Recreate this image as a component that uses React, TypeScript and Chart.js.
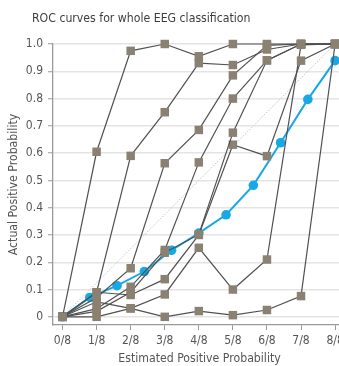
import React, { useEffect, useRef } from 'react';
import { Chart, registerables } from 'chart.js';

Chart.register(...registerables);

const FONT = "'Liberation Sans Narrow', 'DejaVu Sans Condensed', 'Liberation Sans', sans-serif";

const titleText = 'ROC curves for whole EEG classification';
const xAxisTitle = 'Estimated Positive Probability';
const yAxisTitle = 'Actual Positive Probability';

const xTickValues = [0, 0.125, 0.25, 0.375, 0.5, 0.625, 0.75, 0.875, 1];
const xTickLabels = ['0/8', '1/8', '2/8', '3/8', '4/8', '5/8', '6/8', '7/8', '8/8'];
const yTickValues = [0, 0.1, 0.2, 0.3, 0.4, 0.5, 0.6, 0.7, 0.8, 0.9, 1.0];

// Individual readers (gray squares), evaluated at k/8
const readerX = [0, 0.125, 0.25, 0.375, 0.5, 0.625, 0.75, 0.875, 1];
const reader1 = [0, 0.605, 0.975, 1.0, 0.955, 1.0, 1.0, 1.0, 1.0];
const reader2 = [0, 0.09, 0.59, 0.75, 0.93, 0.923, 0.98, 1.0, 1.0];
const reader3 = [0, 0.07, 0.178, 0.563, 0.685, 0.885, 0.995, 1.0, 1.0];
const reader4 = [0, 0.03, 0.11, 0.245, 0.566, 0.8, 0.94, 1.0, 1.0];
const reader5 = [0, 0.02, 0.09, 0.235, 0.302, 0.675, 0.94, 1.0, 1.0];
const reader6 = [0, 0.09, 0.08, 0.138, 0.3, 0.631, 0.589, 0.939, 1.0];
const reader7 = [0, 0.0, 0.031, 0.082, 0.253, 0.1, 0.21, 0.997, 1.0];
const reader8 = [0, 0.055, 0.031, 0.0, 0.021, 0.006, 0.025, 0.076, 1.0];
const readers = [reader1, reader2, reader3, reader4, reader5, reader6, reader7, reader8];

// Algorithm curve (blue)
const blueX = [0, 0.1, 0.2, 0.3, 0.4, 0.5, 0.6, 0.7, 0.8, 0.9, 1.0];
const blueY = [0, 0.071, 0.114, 0.166, 0.244, 0.307, 0.374, 0.482, 0.638, 0.797, 0.939];

// Reference diagonal
const diagX = [0, 1];
const diagY = [0, 1];

export default function App() {
  const canvasRef = useRef<HTMLCanvasElement | null>(null);

  useEffect(() => {
    const canvas = canvasRef.current;
    if (!canvas) return;

    const grayDatasets = readers.map((vals, i) => ({
      label: 'Reader ' + (i + 1),
      data: readerX.map((x, j) => ({ x, y: vals[j] })),
      borderColor: '#505050',
      borderWidth: 1.2,
      pointStyle: 'rect',
      pointRadius: 6,
      pointBorderWidth: 0,
      pointBackgroundColor: 'rgb(139,129,114)',
      pointBorderColor: 'rgb(139,129,114)',
      fill: false,
      tension: 0,
      clip: false,
      order: 1,
    }));

    const chart = new Chart(canvas, {
      type: 'line',
      data: {
        datasets: [
          ...grayDatasets,
          {
            label: 'Algorithm',
            data: blueX.map((x, j) => ({ x, y: blueY[j] })),
            borderColor: '#17a8e6',
            borderWidth: 2,
            pointStyle: 'circle',
            pointRadius: 4.8,
            pointBorderWidth: 0,
            pointBackgroundColor: '#17a8e6',
            fill: false,
            tension: 0,
            clip: false,
            order: 2,
          },
          {
            label: 'Reference',
            data: diagX.map((x, j) => ({ x, y: diagY[j] })),
            borderColor: '#c4c4c4',
            borderWidth: 1,
            borderDash: [1.5, 1.5],
            pointRadius: 0,
            fill: false,
            clip: false,
            order: 3,
          },
        ],
      },
      options: {
        animation: false,
        responsive: false,
        devicePixelRatio: 1,
        layout: { padding: { top: 44, right: 6, left: 0, bottom: 0 } },
        plugins: {
          legend: { display: false },
          tooltip: { enabled: false },
          title: { display: false },
        },
        scales: {
          x: {
            type: 'linear',
            min: -0.035,
            max: 1.04,
            afterBuildTicks: (s: any) => {
              s.ticks = xTickValues.map((v) => ({ value: v }));
            },
            afterFit: (s: any) => {
              s.height = 41;
            },
            grid: {
              drawOnChartArea: false,
              drawTicks: true,
              tickLength: 5,
              tickColor: '#999',
              tickWidth: 1,
            },
            border: { color: '#999', width: 1.3 },
            ticks: {
              autoSkip: false,
              maxRotation: 0,
              color: '#555',
              padding: 4,
              font: { family: FONT, size: 12 },
              callback: (_v: any, i: number) => xTickLabels[i],
            },
            title: {
              display: true,
              text: xAxisTitle,
              color: '#555',
              font: { family: FONT, size: 12.2 },
              padding: { top: 0, bottom: 0 },
            },
          },
          y: {
            type: 'linear',
            min: -0.03,
            max: 1.0,
            afterBuildTicks: (s: any) => {
              s.ticks = yTickValues.map((v) => ({ value: v }));
            },
            afterFit: (s: any) => {
              s.width = 53;
            },
            grid: {
              color: '#e4e4e4',
              lineWidth: 1.5,
              drawTicks: true,
              tickLength: 5,
              tickColor: '#999',
              tickWidth: 1,
            },
            border: { color: '#999', width: 1.3 },
            ticks: {
              color: '#555',
              padding: 5,
              font: { family: FONT, size: 12 },
              callback: (v: any) => (Number(v) === 0 ? '0' : Number(v).toFixed(1)),
            },
            title: {
              display: true,
              text: yAxisTitle,
              color: '#555',
              font: { family: FONT, size: 12.2 },
              padding: { top: 7, bottom: 0 },
            },
          },
        },
      },
    });

    return () => {
      chart.destroy();
    };
  }, []);

  return (
    <div
      style={{
        position: 'fixed',
        left: 0,
        top: 0,
        width: 339,
        height: 366,
        overflow: 'hidden',
        background: '#fff',
      }}
    >
      <div
        style={{
          position: 'absolute',
          left: 32,
          top: 10,
          fontFamily: FONT,
          fontSize: 12.2,
          lineHeight: '16px',
          color: '#3c3c3c',
          whiteSpace: 'nowrap',
        }}
      >
        {titleText}
      </div>
      <canvas ref={canvasRef} width={352} height={366} style={{ display: 'block' }} />
    </div>
  );
}
